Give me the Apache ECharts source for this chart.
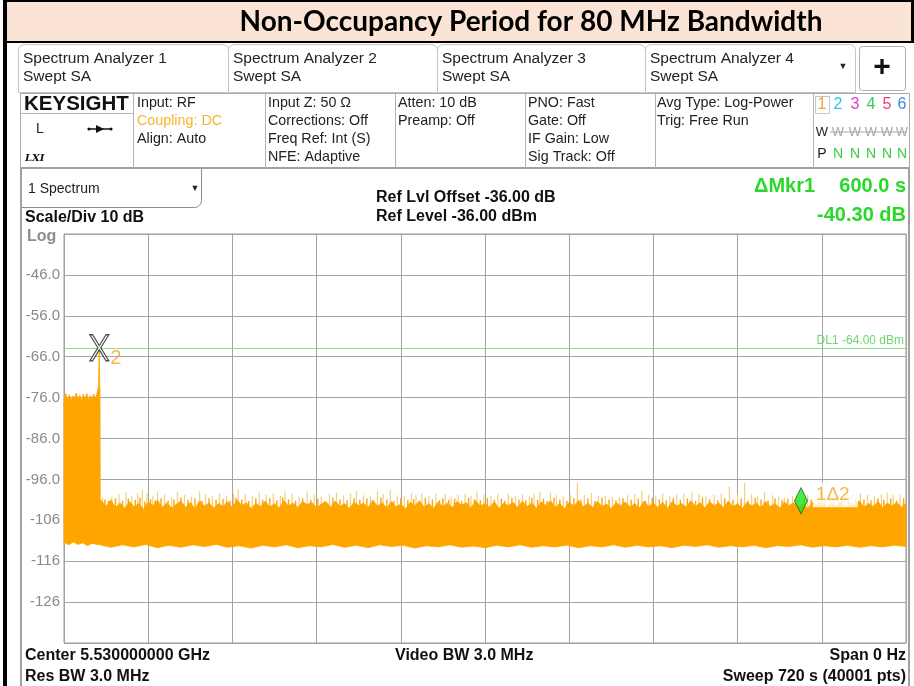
<!DOCTYPE html>
<html>
<head>
<meta charset="utf-8">
<script src="https://cdn.jsdelivr.net/npm/echarts@6/dist/echarts.min.js"></script>
<style>
  html, body { margin: 0; padding: 0; background: #fff; }
  #chart { width: 914px; height: 686px; }
</style>
</head>
<body>
<div id="chart"></div>
<script>
// sweep: 0..720 s, amplitude in dBm
var yTickValues = [-46, -56, -66, -76, -86, -96, -106, -116, -126];
var yTickLabels = ['-46.0', '-56.0', '-66.0', '-76.0', '-86.0', '-96.0', '-106', '-116', '-126'];

// top edge of the dense trace [time s, dBm]
var topEdge = [
  [0, -76.2], [1.5, -75.0], [3, -76.5], [4.5, -75.3], [6, -76.8], [7.5, -75.6], [9, -76.1], [10.5, -74.9],
  [12, -76.6], [13.5, -75.4], [15, -76.9], [16.5, -75.2], [18, -76.3], [19.5, -75.0], [21, -76.7], [22.5, -75.5],
  [24, -76.2], [25.5, -75.1], [27, -76.4], [28.5, -74.6], [29.5, -73.2], [30.0, -66.0], [30.2, -64.2], [30.5, -72.0],
  [30.8, -75.5], [31.0, -101.0],
  [32, -101.2], [36, -102.6], [40, -101.0], [44, -102.9], [48, -101.8], [52, -103.1], [56, -101.4], [60, -102.7],
  [64, -101.9], [68, -103.3], [72, -101.5], [76, -102.4], [80, -101.1], [84, -102.8], [88, -101.7], [92, -103.0],
  [96, -102.1], [100, -101.3], [104, -102.9], [108, -101.6], [112, -103.2], [116, -101.2], [120, -102.5], [124, -101.8],
  [128, -103.0], [132, -101.9], [136, -102.6], [140, -101.4], [144, -102.9], [148, -101.0], [152, -102.4], [156, -101.7],
  [160, -103.1], [164, -101.9], [168, -102.6], [172, -101.3], [176, -102.8], [180, -101.9], [184, -103.0], [188, -101.2],
  [192, -102.5], [196, -101.8], [200, -102.9], [204, -101.4], [208, -102.2], [212, -101.6], [216, -103.0], [220, -102.0],
  [224, -101.5], [228, -102.8], [232, -101.3], [236, -102.6], [240, -101.9], [244, -103.1], [248, -101.6], [252, -102.4],
  [256, -101.8], [260, -102.9], [264, -101.1], [268, -102.5], [272, -101.7], [276, -103.0], [280, -101.4], [284, -102.7],
  [288, -102.0], [292, -103.2], [296, -101.6], [300, -102.4], [304, -101.3], [308, -102.8], [312, -101.9], [316, -103.1],
  [320, -101.5], [324, -102.6], [328, -101.8], [332, -102.9], [336, -101.4], [340, -102.3], [344, -101.7], [348, -103.0],
  [352, -101.2], [356, -102.5], [360, -101.9], [364, -102.8], [368, -101.5], [372, -103.1], [376, -101.8], [380, -102.4],
  [384, -101.6], [388, -102.9], [392, -101.3], [396, -102.6], [400, -101.8], [404, -103.0], [408, -101.5], [412, -102.3],
  [416, -101.2], [420, -102.8], [424, -101.9], [428, -103.1], [432, -101.6], [436, -102.5], [440, -101.1], [444, -102.7],
  [448, -101.8], [452, -102.9], [456, -101.4], [460, -102.6], [464, -102.0], [468, -103.2], [472, -101.7], [476, -102.4],
  [480, -101.5], [484, -102.8], [488, -101.9], [492, -103.0], [496, -101.3], [500, -102.6], [504, -101.8], [508, -102.9],
  [512, -101.6], [516, -103.1], [520, -101.4], [524, -102.5], [528, -101.9], [532, -102.8], [536, -101.2], [540, -102.6],
  [544, -101.7], [548, -103.0], [552, -101.5], [556, -102.4], [560, -101.8], [564, -102.9], [568, -101.3], [572, -102.7],
  [576, -101.9], [580, -103.1], [584, -101.6], [588, -102.5], [592, -101.8], [596, -102.9], [600, -101.4], [604, -102.6],
  [608, -101.9], [612, -103.0], [616, -101.5], [620, -102.4], [624, -101.7], [628, -102.8], [632, -101.9], [636, -103.1],
  [640, -101.6], [644, -102.5], [648, -101.3], [652, -102.9], [656, -101.8], [660, -102.6], [664, -101.5], [668, -103.0],
  [672, -101.7], [676, -102.4], [680, -101.2], [684, -102.8], [688, -101.9], [692, -102.6], [696, -101.4], [700, -102.9],
  [704, -101.8], [708, -102.5], [712, -101.6], [716, -102.8], [720, -101.9]
];

// bottom edge of the dense trace [time s, dBm]
var lowerEdge = [
  [0, -111.4], [4, -112.0], [8, -111.3], [12, -111.9], [16, -111.5], [20, -112.2], [24, -111.6], [28, -111.9],
  [31, -112.0], [40, -112.6], [50, -112.0], [60, -112.5], [70, -111.9], [80, -112.7], [90, -112.1], [100, -112.6],
  [110, -112.0], [120, -112.4], [130, -111.9], [140, -112.6], [150, -112.2], [160, -112.8], [170, -112.1], [180, -112.5],
  [190, -112.0], [200, -112.7], [210, -112.2], [220, -112.5], [230, -111.9], [240, -112.6], [250, -112.1], [260, -112.7],
  [270, -112.0], [280, -112.4], [290, -112.1], [300, -112.8], [310, -112.2], [320, -112.5], [330, -112.0], [340, -112.6],
  [350, -112.3], [360, -112.7], [370, -112.1], [380, -112.5], [390, -112.0], [400, -112.6], [410, -112.2], [420, -112.5],
  [430, -112.1], [440, -112.7], [450, -112.2], [460, -112.5], [470, -112.0], [480, -112.6], [490, -112.1], [500, -112.5],
  [510, -112.2], [520, -112.7], [530, -112.1], [540, -112.4], [550, -112.0], [560, -112.6], [570, -112.2], [580, -112.5],
  [590, -112.1], [600, -112.7], [610, -112.2], [620, -112.4], [630, -112.0], [640, -112.6], [650, -112.2], [660, -112.5],
  [670, -112.1], [680, -112.6], [690, -112.2], [700, -112.5], [710, -112.1], [720, -112.4]
];

// tall, faint noise peaks above the dense trace [time s, dBm]
var noisePeaks = [
  [33, -100.4], [41, -100.2], [47, -99.6], [53, -99.0], [58, -100.1], [63, -99.3], [67, -98.6], [71, -99.4],
  [76, -100.0], [80, -98.9], [86, -99.7], [92, -100.3], [97, -99.1], [103, -99.8], [109, -100.2], [116, -98.9],
  [121, -99.6], [127, -100.0], [133, -99.3], [139, -99.9], [145, -99.5], [149, -98.4], [155, -99.7], [161, -100.1],
  [167, -99.2], [173, -99.8], [179, -99.4], [185, -100.0], [189, -98.9], [195, -99.6], [201, -100.2], [208, -99.0],
  [214, -99.7], [220, -100.1], [227, -99.5], [233, -99.2], [239, -99.9], [245, -99.4], [250, -98.8], [256, -99.9],
  [262, -100.2], [268, -98.9], [273, -99.6], [279, -98.6], [285, -99.9], [291, -100.1], [297, -99.4], [301, -99.8],
  [306, -99.3], [312, -100.0], [318, -99.6], [326, -99.5], [331, -100.2], [337, -99.8], [343, -99.5], [348, -100.0],
  [353, -99.0], [359, -99.7], [365, -100.1], [371, -99.6], [380, -99.5], [386, -100.0], [392, -99.7], [398, -100.2],
  [402, -99.6], [407, -99.0], [416, -99.2], [421, -99.9], [427, -100.2], [433, -99.7], [439, -96.8], [445, -99.8],
  [451, -99.4], [457, -100.1], [463, -99.9], [469, -100.3], [475, -100.3], [482, -99.9], [488, -99.6], [494, -98.7],
  [500, -99.8], [506, -100.0], [512, -99.4], [518, -100.1], [524, -99.7], [530, -99.6], [537, -99.0], [543, -99.6],
  [549, -100.1], [556, -99.8], [562, -99.4], [569, -97.8], [576, -99.5], [582, -96.8], [588, -99.7], [593, -100.0],
  [599, -99.1], [606, -99.9], [611, -100.2], [616, -100.4], [623, -100.0], [628, -100.3], [636, -99.8], [642, -100.1],
  [648, -99.6], [655, -100.0], [662, -99.7], [668, -100.2], [674, -99.9], [681, -99.4], [687, -99.8], [693, -100.1],
  [699, -99.6], [704, -99.2], [709, -99.8], [715, -99.7]
];

// shorter solid peaks just above the dense trace [time s, dBm]
var midPeaks = [
  [35, -100.9], [38, -101.3], [44, -100.6], [50, -101.2], [55, -100.7], [61, -101.0], [65, -100.5], [69, -101.4],
  [74, -100.8], [78, -101.1], [83, -100.6], [89, -101.2], [94, -100.9], [100, -100.4], [106, -101.0], [112, -100.7],
  [118, -101.3], [124, -100.6], [130, -101.0], [136, -100.8], [142, -101.2], [147, -100.5], [152, -100.9], [158, -101.3],
  [164, -100.7], [170, -101.0], [176, -100.6], [182, -101.1], [187, -100.4], [192, -100.9], [198, -101.2], [204, -100.6],
  [211, -101.0], [217, -100.7], [223, -101.3], [230, -100.5], [236, -100.9], [242, -101.1], [248, -100.6], [253, -101.0],
  [259, -100.7], [265, -101.2], [271, -100.5], [276, -100.9], [282, -101.3], [288, -100.6], [294, -101.0], [299, -100.8],
  [304, -101.2], [309, -100.5], [315, -100.9], [321, -101.1], [324, -100.6], [329, -101.0], [334, -100.7], [340, -101.3],
  [346, -100.5], [351, -100.9], [356, -101.1], [362, -100.6], [368, -101.0], [374, -100.7], [377, -101.2], [383, -100.5],
  [389, -100.9], [395, -101.1], [400, -100.6], [405, -101.0], [410, -100.7], [413, -101.3], [419, -100.5], [424, -100.9],
  [430, -101.2], [436, -100.6], [442, -101.0], [448, -100.7], [454, -101.3], [460, -100.5], [466, -100.9], [472, -101.1],
  [478, -100.6], [485, -101.0], [491, -100.7], [497, -101.2], [503, -100.5], [509, -100.9], [515, -101.1], [521, -100.6],
  [527, -101.0], [533, -100.7], [540, -101.3], [546, -100.5], [552, -100.9], [559, -101.1], [565, -100.6], [572, -101.0],
  [579, -100.7], [585, -101.2], [591, -100.5], [596, -100.9], [602, -101.1], [608, -100.6], [614, -101.0], [619, -100.7],
  [626, -101.2], [633, -100.5], [639, -100.9], [645, -101.1], [651, -100.6], [658, -101.0], [665, -100.7], [671, -101.3],
  [677, -100.5], [684, -100.9], [690, -101.1], [696, -100.6], [701, -101.0], [707, -100.7], [712, -101.2], [718, -100.6]
];

// markers: 2 = reference, 1 = delta
var markerNames = ['2', '1\u03942'];
var markerTimes = [30.2, 630.2];
var markerLevels = [-63.8, -101.2];
var displayLine = -64;

var chart = echarts.init(document.getElementById('chart'));

var F = '"Liberation Sans", Arial, sans-serif';
function txt(x, y, s, size, color, opts) {
  opts = opts || {};
  return {
    type: 'text', x: x, y: y, z: 10,
    style: {
      text: s, fill: color || '#222',
      font: (opts.weight || 'normal') + ' ' + size + 'px ' + (opts.family || F),
      textAlign: opts.align || 'left', textVerticalAlign: 'middle'
    }
  };
}
function box(x, y, w, h, stroke, fill, r, lw) {
  return {
    type: 'rect', z: 5,
    shape: { x: x, y: y, width: w, height: h, r: r || 0 },
    style: { fill: fill || 'none', stroke: stroke || 'none', lineWidth: lw || 1 }
  };
}
function hline(x1, x2, y, color, w) {
  return { type: 'line', z: 6, shape: { x1: x1, y1: y, x2: x2, y2: y }, style: { stroke: color, lineWidth: w || 1 } };
}
function vline(x, y1, y2, color, w) {
  return { type: 'line', z: 6, shape: { x1: x, y1: y1, x2: x, y2: y2 }, style: { stroke: color, lineWidth: w || 1 } };
}
// vertical noise strokes from below the band top up to each peak
function peakRenderer(color, width) {
  return function (params, api) {
    var p0 = api.coord([api.value(0), -104]);
    var p1 = api.coord([api.value(0), api.value(1)]);
    return {
      type: 'line',
      shape: { x1: p0[0], y1: p0[1], x2: p1[0], y2: p1[1] },
      style: { stroke: color, lineWidth: width }
    };
  };
}

var graphics = [];
// title band
graphics.push(box(3, 0, 911, 43, null, '#fbe4d5'));
graphics.push(box(3, 0, 911, 2, null, '#000'));
graphics.push(box(3, 41, 911, 2, null, '#000'));
graphics.push(box(3, 0, 4, 686, null, '#000'));
graphics.push(box(911, 0, 3, 43, null, '#000'));
graphics.push(txt(531, 22, 'Non-Occupancy Period for 80 MHz Bandwidth', 28, '#000', { weight: 'bold', align: 'center', family: 'Lato, "Open Sans", sans-serif' }));

// tabs
var tabX = [18, 228, 437, 645];
var tabW = [210, 209, 208, 210];
var tabNames = ['Spectrum Analyzer 1', 'Spectrum Analyzer 2', 'Spectrum Analyzer 3', 'Spectrum Analyzer 4'];
for (var i = 0; i < 4; i++) {
  graphics.push(box(tabX[i] + 0.5, 44.5, tabW[i], 48, '#c4c4c4', '#fff', [6, 6, 0, 0]));
  graphics.push(txt(tabX[i] + 5, 59, tabNames[i], 15.5, '#222'));
  graphics.push(txt(tabX[i] + 5, 77, 'Swept SA', 15.5, '#222'));
}
graphics.push(txt(843, 67, '\u25BC', 9, '#222', { align: 'center' }));
graphics.push(box(859.5, 46.5, 46, 44, '#b0b0b0', '#fff', 3));
graphics.push(txt(882, 68, '+', 30, '#111', { weight: 'bold', align: 'center' }));

// info panel
graphics.push(box(20.5, 93.5, 889, 75, '#a8a8a8', '#fff'));
graphics.push(hline(20, 910, 168, '#a0a0a0', 2));
var divX = [133.5, 265.5, 395.5, 525.5, 655.5, 813.5];
divX.forEach(function (x) { graphics.push(vline(x, 94, 168, '#b4b4b4')); });
graphics.push(hline(20, 133, 113.5, '#b4b4b4'));
graphics.push(txt(24, 104, 'KEYSIGHT', 20.5, '#111', { weight: 'bold' }));
graphics.push(txt(36, 129, 'L', 14, '#222'));
graphics.push(hline(89, 111, 129, '#111', 1.5));
graphics.push({ type: 'polygon', z: 7, shape: { points: [[96, 125], [104, 129], [96, 133]] }, style: { fill: '#111' } });
graphics.push({ type: 'circle', z: 7, shape: { cx: 89, cy: 129, r: 1.6 }, style: { fill: '#111' } });
graphics.push({ type: 'circle', z: 7, shape: { cx: 111, cy: 129, r: 1.6 }, style: { fill: '#111' } });
graphics.push(txt(25, 158, 'LXI', 10, '#111', { weight: 'italic bold', family: '"DejaVu Serif", serif' }));

var rowY = [103, 121, 139, 157];
var panelCols = [
  [137, ['Input: RF', 'Coupling: DC', 'Align: Auto']],
  [268, ['Input Z: 50 \u03A9', 'Corrections: Off', 'Freq Ref: Int (S)', 'NFE: Adaptive']],
  [398, ['Atten: 10 dB', 'Preamp: Off']],
  [528, ['PNO: Fast', 'Gate: Off', 'IF Gain: Low', 'Sig Track: Off']],
  [657, ['Avg Type: Log-Power', 'Trig: Free Run']]
];
panelCols.forEach(function (c) {
  c[1].forEach(function (s, j) {
    graphics.push(txt(c[0], rowY[j], s, 14.3, s === 'Coupling: DC' ? '#f7b52a' : '#222'));
  });
});
// trace indicators
var trX = [822, 838, 855, 871, 887, 902];
var trColors = ['#f5a623', '#2cc6e8', '#e03ad8', '#3dc95c', '#e8406e', '#3a8de0'];
graphics.push(box(815.5, 96.5, 14, 17, '#b9c9dc', '#fff'));
trX.forEach(function (x, j) {
  graphics.push(txt(x, 105, String(j + 1), 16, trColors[j], { align: 'center' }));
  if (j === 0) {
    graphics.push(txt(x, 132, 'W', 13, '#222', { align: 'center' }));
    graphics.push(txt(x, 154, 'P', 14, '#222', { align: 'center' }));
  } else {
    graphics.push(txt(x, 132, 'W', 13, '#a8a8a8', { align: 'center' }));
    graphics.push(txt(x, 154, 'N', 14, '#3ccb4a', { align: 'center' }));
  }
});
graphics.push(hline(830, 907, 132, '#a8a8a8', 1));

// spectrum window frame
graphics.push(vline(21, 168, 686, '#a0a0a0', 2));
graphics.push(vline(909, 168, 686, '#a0a0a0', 2));
graphics.push(box(21.5, 168.5, 180, 39, '#8a8a8a', '#fff', [0, 0, 7, 0]));
graphics.push(txt(28, 189, '1 Spectrum', 14, '#222'));
graphics.push(txt(195, 189, '\u25BC', 9, '#222', { align: 'center' }));
graphics.push(txt(25, 218, 'Scale/Div 10 dB', 16, '#111', { weight: 'bold' }));
graphics.push(txt(27, 237, 'Log', 16, '#8c8c8c', { weight: 'bold' }));
graphics.push(txt(376, 198, 'Ref Lvl Offset -36.00 dB', 16, '#111', { weight: 'bold' }));
graphics.push(txt(376, 217, 'Ref Level -36.00 dBm', 16, '#111', { weight: 'bold' }));
graphics.push(txt(754, 186, '\u0394Mkr1', 20, '#2ad82a', { weight: 'bold' }));
graphics.push(txt(906, 186, '600.0 s', 20, '#2ad82a', { weight: 'bold', align: 'right' }));
graphics.push(txt(906, 215, '-40.30 dB', 20, '#2ad82a', { weight: 'bold', align: 'right' }));
graphics.push(txt(25, 656, 'Center 5.530000000 GHz', 16, '#111', { weight: 'bold' }));
graphics.push(txt(25, 677, 'Res BW 3.0 MHz', 16, '#111', { weight: 'bold' }));
graphics.push(txt(395, 656, 'Video BW 3.0 MHz', 16, '#111', { weight: 'bold' }));
graphics.push(txt(906, 656, 'Span 0 Hz', 16, '#111', { weight: 'bold', align: 'right' }));
graphics.push(txt(906, 677, 'Sweep 720 s (40001 pts)', 16, '#111', { weight: 'bold', align: 'right' }));

var xMarkPath = 'path://M0,0 L3,0 L10,11 L17,0 L20,0 L11.5,13 L20,26 L17,26 L10,15 L3,26 L0,26 L8.5,13 Z';

var option = {
  backgroundColor: '#fff',
  animation: false,
  graphic: graphics,
  grid: { left: 64, right: 8, top: 234, bottom: 43, show: true, borderColor: '#9a9a9a', borderWidth: 1 },
  xAxis: {
    type: 'value', min: 0, max: 720, interval: 72,
    axisLabel: { show: false }, axisTick: { show: false }, axisLine: { show: false },
    splitLine: { lineStyle: { color: '#a3a3a3', width: 1 } }
  },
  yAxis: {
    type: 'value', min: -136, max: -36, interval: 10,
    axisTick: { show: false }, axisLine: { show: false },
    splitLine: { lineStyle: { color: '#a3a3a3', width: 1 } },
    axisLabel: {
      color: '#8a8a8a', fontSize: 15, fontFamily: F, margin: 4,
      formatter: function (v) {
        var k = yTickValues.indexOf(v);
        return k >= 0 ? yTickLabels[k] : '';
      }
    }
  },
  series: [
    { type: 'custom', z: 2, silent: true, data: noisePeaks, renderItem: peakRenderer('#f5cf7e', 1.2) },
    { type: 'custom', z: 2, silent: true, data: midPeaks, renderItem: peakRenderer('#ffa500', 1.4) },
    {
      // dense trace envelope
      type: 'custom', z: 3, silent: true,
      data: [[360, -106]],
      renderItem: function (params, api) {
        var pts = [];
        topEdge.forEach(function (d) { pts.push(api.coord(d)); });
        for (var j = lowerEdge.length - 1; j >= 0; j--) pts.push(api.coord(lowerEdge[j]));
        return {
          type: 'polygon',
          shape: { points: pts },
          style: { fill: '#ffa500', stroke: '#ffa500', lineWidth: 0.8 }
        };
      }
    },
    {
      type: 'scatter', z: 5, silent: true,
      data: [
        {
          value: [markerTimes[0], markerLevels[0]],
          symbol: xMarkPath, symbolSize: [19, 26],
          itemStyle: { color: '#fff', borderColor: '#222', borderWidth: 1.2 },
          label: { show: true, formatter: markerNames[0], position: 'right', offset: [-4, 11], color: '#f5a623', fontSize: 20, fontFamily: F }
        },
        {
          value: [markerTimes[1], markerLevels[1]],
          symbol: 'diamond', symbolSize: [13, 26],
          itemStyle: { color: '#1ee61e', borderColor: '#1f5f1f', borderWidth: 1 },
          label: {
            show: true, formatter: markerNames[1], position: 'right', offset: [0, -6],
            color: '#f5a623', fontSize: 19, fontFamily: F, backgroundColor: '#fff', padding: [3, 8, 3, 3]
          }
        }
      ],
      markLine: {
        silent: true, symbol: 'none',
        lineStyle: { color: '#86e086', width: 1, type: 'solid' },
        label: { position: 'insideEndTop', formatter: 'DL1 -64.00 dBm', color: '#6dd66d', fontSize: 12, fontFamily: F, distance: 2 },
        data: [{ yAxis: displayLine }]
      }
    }
  ]
};
chart.setOption(option);
</script>
</body>
</html>
